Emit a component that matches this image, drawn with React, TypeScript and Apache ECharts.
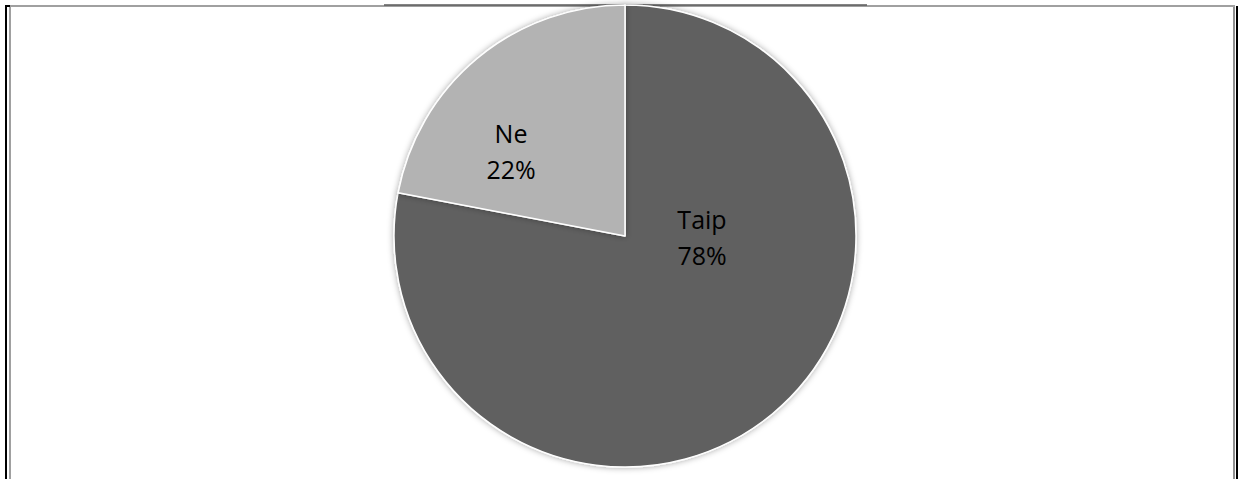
import React, { useEffect, useRef } from "react";
import * as echarts from "echarts";

// Survey answers: share of respondents (percent)
const categories = ["Taip", "Ne"];
const values = [78, 22];
const sliceColors = ["#606060", "#b3b3b3"];

// Where each slice's label sits inside the pie (px, chart coordinates)
const labelSpots = [
  [702, 237],
  [511, 151],
];

export default function App() {
  const ref = useRef<HTMLDivElement>(null);

  useEffect(() => {
    if (!ref.current) return;
    const chart = echarts.init(ref.current, undefined, { renderer: "svg" });
    chart.setOption({
      animation: false,
      backgroundColor: "#ffffff",
      series: [
        {
          type: "pie",
          center: [625, 236],
          radius: 231,
          startAngle: 90,
          clockwise: true,
          silent: true,
          data: categories.map((name, i) => ({
            name,
            value: values[i],
            itemStyle: { color: sliceColors[i] },
          })),
          itemStyle: {
            borderColor: "#ffffff",
            borderWidth: 1.5,
            shadowBlur: 6,
            shadowColor: "rgba(0,0,0,0.35)",
          },
          label: {
            show: true,
            position: "inside",
            formatter: "{b}\n{d}%",
            color: "#000000",
            fontFamily: "Open Sans",
            fontSize: 25,
            lineHeight: 36,
            align: "center",
          },
          labelLine: { show: false },
          labelLayout: (p: any) => ({
            x: labelSpots[p.dataIndex][0],
            y: labelSpots[p.dataIndex][1],
            align: "center",
            verticalAlign: "middle",
          }),
        },
      ],
      graphic: [
        // frame: outer black rule and inner grey rule
        { type: "line", shape: { x1: 6, y1: 6, x2: 6, y2: 479 }, style: { stroke: "#000000", lineWidth: 2 } },
        { type: "line", shape: { x1: 5, y1: 6, x2: 10, y2: 6 }, style: { stroke: "#000000", lineWidth: 2 } },
        { type: "line", shape: { x1: 10, y1: 7, x2: 10, y2: 479 }, style: { stroke: "#a0a0a0", lineWidth: 2 } },
        { type: "line", shape: { x1: 1237, y1: 6, x2: 1237, y2: 479 }, style: { stroke: "#000000", lineWidth: 2 } },
        { type: "line", shape: { x1: 1234, y1: 7, x2: 1234, y2: 479 }, style: { stroke: "#909090", lineWidth: 2 } },
        { type: "line", shape: { x1: 10, y1: 6, x2: 1235, y2: 6 }, style: { stroke: "#a0a0a0", lineWidth: 2 } },
        { type: "line", shape: { x1: 384, y1: 5, x2: 867, y2: 5 }, style: { stroke: "#5a5a5a", lineWidth: 1.5 } },
      ],
    });
    return () => chart.dispose();
  }, []);

  return (
    <div
      ref={ref}
      style={{ position: "absolute", left: 0, top: 0, width: 1241, height: 479 }}
    />
  );
}
